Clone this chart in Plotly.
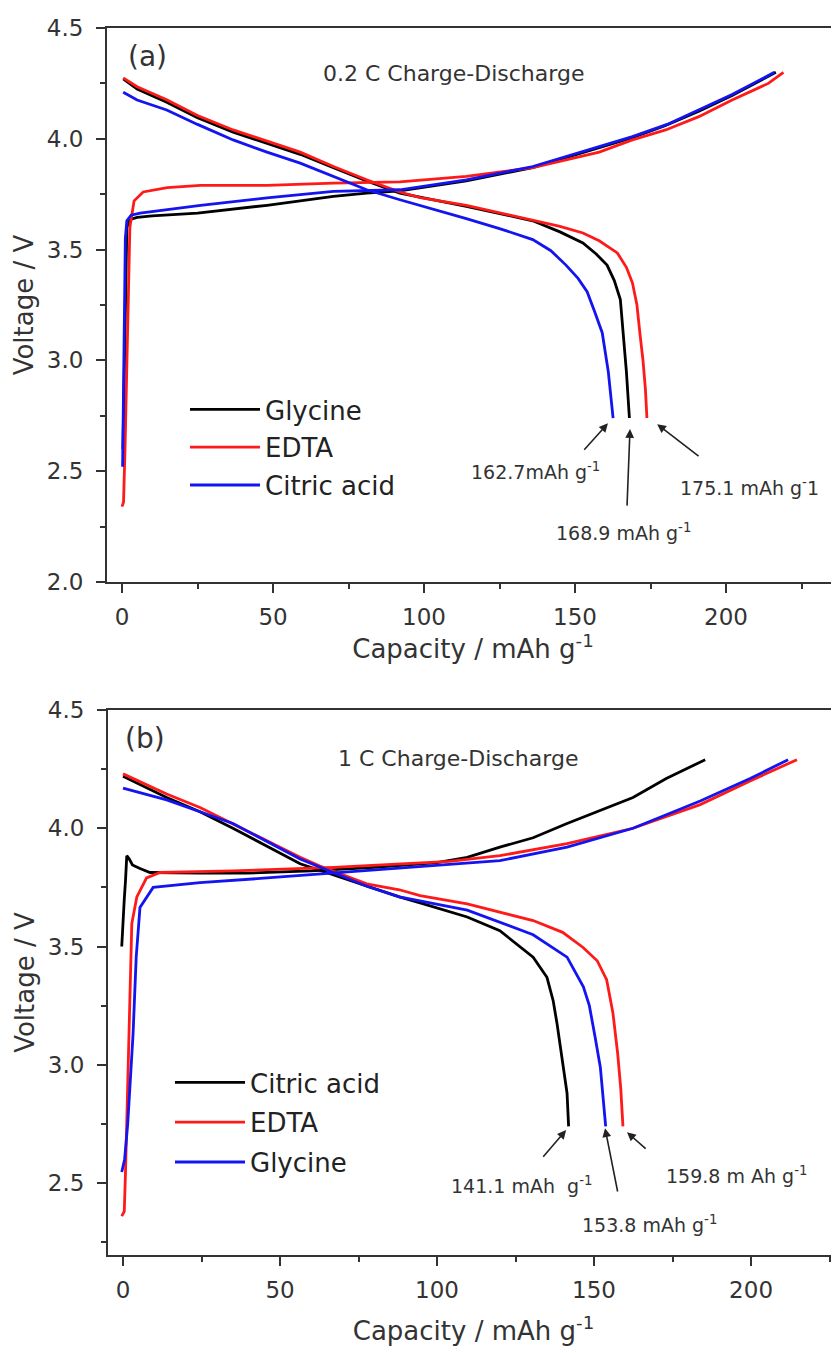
import plotly.graph_objects as go

# ---------------- Panel (a): 0.2 C ----------------
a_gly_chg_cap = [0.3, 0.8, 1.2, 1.6, 2.5, 5, 10, 25, 48, 70, 81, 92, 114, 136, 158, 169, 180, 191, 202, 216.5]
a_gly_chg_v = [2.60, 3.00, 3.40, 3.60, 3.635, 3.645, 3.652, 3.665, 3.70, 3.74, 3.755, 3.765, 3.81, 3.87, 3.96, 4.005, 4.06, 4.125, 4.195, 4.30]
a_edta_chg_cap = [0.0, 0.5, 1.0, 1.5, 2.0, 2.6, 4, 7, 15, 26, 48, 70, 92, 114, 136, 147, 158, 169, 180, 191, 202, 214, 219]
a_edta_chg_v = [2.34, 2.36, 2.6, 2.9, 3.2, 3.6, 3.72, 3.76, 3.78, 3.79, 3.79, 3.80, 3.806, 3.83, 3.87, 3.905, 3.94, 3.995, 4.04, 4.10, 4.175, 4.25, 4.30]
a_cit_chg_cap = [0.2, 0.5, 0.8, 1.1, 1.6, 3, 6, 26, 48, 70, 92, 114, 136, 158, 169, 180.5, 191, 202, 216]
a_cit_chg_v = [2.52, 2.85, 3.20, 3.55, 3.63, 3.655, 3.665, 3.70, 3.733, 3.763, 3.77, 3.815, 3.875, 3.965, 4.01, 4.065, 4.13, 4.20, 4.30]

a_gly_dis_cap = [0.4, 5, 14.8, 25, 36.8, 48, 59, 70, 81, 92, 114, 136, 145, 152.6, 157, 160.6, 163, 165, 166, 167, 168]
a_gly_dis_v = [4.27, 4.225, 4.165, 4.095, 4.03, 3.98, 3.93, 3.87, 3.81, 3.755, 3.695, 3.63, 3.58, 3.53, 3.48, 3.43, 3.36, 3.275, 3.13, 2.95, 2.74]
a_edta_dis_cap = [0.4, 5, 14.8, 25, 36.8, 48, 59, 70, 81, 92, 98.7, 114, 136, 145, 152.6, 158, 164, 167, 169, 170.5, 171.5, 172.5, 173.3, 173.8]
a_edta_dis_v = [4.275, 4.235, 4.176, 4.105, 4.04, 3.99, 3.94, 3.875, 3.815, 3.76, 3.735, 3.70, 3.635, 3.605, 3.575, 3.54, 3.485, 3.42, 3.35, 3.25, 3.12, 3.0, 2.87, 2.74]
a_cit_dis_cap = [0.4, 5, 14.8, 25, 36.8, 48, 59, 70, 81, 92, 98.7, 114, 125, 136, 142, 147, 151, 154, 156.5, 159, 161, 162.6]
a_cit_dis_v = [4.21, 4.175, 4.13, 4.065, 3.995, 3.94, 3.89, 3.83, 3.77, 3.725, 3.70, 3.64, 3.595, 3.545, 3.495, 3.43, 3.37, 3.31, 3.22, 3.125, 2.95, 2.74]

# ---------------- Panel (b): 1 C ----------------
b_cit_chg_cap = [-0.4, 0.0, 0.4, 0.8, 1.2, 2.0, 3.0, 5.4, 8.6, 24.5, 39.4, 60, 80, 100, 109.6, 120, 130.6, 141.4, 152, 162.4, 173, 185.4]
b_cit_chg_v = [3.50, 3.62, 3.70, 3.78, 3.884, 3.87, 3.845, 3.83, 3.813, 3.81, 3.81, 3.82, 3.835, 3.855, 3.877, 3.92, 3.96, 4.02, 4.074, 4.13, 4.21, 4.29]
b_edta_chg_cap = [-0.4, 0.4, 0.8, 1.2, 1.6, 2.2, 2.8, 4.4, 7.5, 11.8, 35, 67, 88, 104, 120, 141.4, 162.4, 183.8, 199.7, 214.6]
b_edta_chg_v = [2.36, 2.38, 2.55, 2.78, 2.99, 3.30, 3.597, 3.71, 3.79, 3.813, 3.82, 3.835, 3.85, 3.86, 3.884, 3.935, 4.00, 4.10, 4.20, 4.29]
b_gly_chg_cap = [-0.4, 0.5, 1.5, 2.5, 3.2, 4.2, 5.4, 9.6, 24.5, 45.9, 67, 88, 120, 141.4, 162.4, 183.8, 199.7, 211.8]
b_gly_chg_v = [2.547, 2.60, 2.75, 2.95, 3.13, 3.455, 3.665, 3.75, 3.77, 3.79, 3.81, 3.83, 3.863, 3.92, 4.00, 4.115, 4.21, 4.29]

b_cit_dis_cap = [0, 13.9, 24.5, 35, 56.4, 77.6, 88, 94.6, 109.6, 120, 130.6, 135, 137, 138.2, 139.5, 141.4, 141.9]
b_cit_dis_v = [4.22, 4.13, 4.07, 4.00, 3.85, 3.755, 3.71, 3.685, 3.625, 3.567, 3.455, 3.37, 3.27, 3.175, 3.05, 2.88, 2.74]
b_edta_dis_cap = [0, 13.9, 24.5, 35, 45.8, 56.4, 62.7, 77.6, 88, 94.6, 109.6, 130.6, 140, 146.5, 151, 154, 156, 157.5, 158.5, 159.2]
b_edta_dis_v = [4.23, 4.145, 4.088, 4.018, 3.947, 3.877, 3.84, 3.765, 3.74, 3.715, 3.68, 3.61, 3.56, 3.496, 3.44, 3.36, 3.22, 3.05, 2.90, 2.74]
b_gly_dis_cap = [0, 13.9, 24.5, 35, 56.4, 77.6, 88, 109.6, 130.6, 141.4, 146.6, 148.5, 150.3, 152, 153.7]
b_gly_dis_v = [4.17, 4.12, 4.07, 4.02, 3.87, 3.755, 3.71, 3.654, 3.55, 3.455, 3.33, 3.25, 3.12, 2.99, 2.74]

# annotation labels
a_labels = ["162.7mAh g<sup>-1</sup>", "168.9 mAh g<sup>-1</sup>", "175.1 mAh g<sup>-</sup>1"]
a_label_pos = [(136.8, 2.50), (165.9, 2.225), (207.6, 2.43)]
a_arrow_head = [(160.9, 2.716), (168.2, 2.69), (177.2, 2.712)]
a_arrow_tail = [(152.6, 2.59), (167.2, 2.338), (191.4, 2.563)]

b_labels = ["141.1 mAh  g<sup>-1</sup>", "153.8 mAh g<sup>-1</sup>", "159.8 m Ah g<sup>-1</sup>"]
b_label_pos = [(126.8, 2.49), (167.5, 2.325), (195.2, 2.535)]
b_arrow_head = [(141.1, 2.724), (153.5, 2.732), (160.5, 2.715)]
b_arrow_tail = [(133.4, 2.605), (157.6, 2.458), (166.9, 2.64)]

BLACK = "#000000"
RED = "#ff1a1a"
BLUE = "#1414f0"
FONT = "DejaVu Sans"
TXT = "#333333"
LW = 2.8

# page body has an 8 px margin: figure coordinates = page coordinates - 8
OFF = 8
W, H = 839 - OFF, 1353 - OFF

def px(xp):
    return (xp - OFF) / W

def py(yp):
    return 1 - (yp - OFF) / H

fig = go.Figure()

def add_pair(cap_c, v_c, cap_d, v_d, name, color, xa, ya, legend, grp):
    fig.add_trace(go.Scatter(x=cap_c, y=v_c, mode="lines", name=name,
                             line=dict(color=color, width=LW), xaxis=xa, yaxis=ya,
                             legend=legend, legendgroup=grp, showlegend=True))
    fig.add_trace(go.Scatter(x=cap_d, y=v_d, mode="lines", name=name,
                             line=dict(color=color, width=LW), xaxis=xa, yaxis=ya,
                             legend=legend, legendgroup=grp, showlegend=False))

add_pair(a_gly_chg_cap, a_gly_chg_v, a_gly_dis_cap, a_gly_dis_v, "Glycine", BLACK, "x", "y", "legend", "a1")
add_pair(a_edta_chg_cap, a_edta_chg_v, a_edta_dis_cap, a_edta_dis_v, "EDTA", RED, "x", "y", "legend", "a2")
add_pair(a_cit_chg_cap, a_cit_chg_v, a_cit_dis_cap, a_cit_dis_v, "Citric acid", BLUE, "x", "y", "legend", "a3")

add_pair(b_cit_chg_cap, b_cit_chg_v, b_cit_dis_cap, b_cit_dis_v, "Citric acid", BLACK, "x2", "y2", "legend2", "b1")
add_pair(b_edta_chg_cap, b_edta_chg_v, b_edta_dis_cap, b_edta_dis_v, "EDTA", RED, "x2", "y2", "legend2", "b2")
add_pair(b_gly_chg_cap, b_gly_chg_v, b_gly_dis_cap, b_gly_dis_v, "Glycine", BLUE, "x2", "y2", "legend2", "b3")

def xax(domain_left, rng, anchor, standoff):
    return dict(domain=[domain_left, 1.0], range=rng, anchor=anchor,
                tick0=0, dtick=50, ticks="outside", ticklen=9, tickwidth=2, tickcolor="#333",
                minor=dict(dtick=25, ticks="outside", ticklen=5, tickwidth=2, tickcolor="#333"),
                showline=True, linecolor="#333", linewidth=2, mirror=True,
                showgrid=False, zeroline=False, automargin=False,
                tickfont=dict(family=FONT, size=23, color=TXT), ticklabelstandoff=4,
                title=dict(text="Capacity / mAh g<sup>-1</sup>", font=dict(family=FONT, size=26, color=TXT),
                           standoff=standoff))

def yax(dom, rng, anchor):
    return dict(domain=dom, range=rng, anchor=anchor,
                tick0=0, dtick=0.5, tickformat=".1f", ticks="outside", ticklen=9, tickwidth=2, tickcolor="#333",
                minor=dict(dtick=0.25, ticks="outside", ticklen=5, tickwidth=2, tickcolor="#333"),
                showline=True, linecolor="#333", linewidth=2, mirror=False,
                showgrid=False, zeroline=False, automargin=False,
                tickfont=dict(family=FONT, size=23, color=TXT), ticklabelstandoff=8,
                title=dict(text="Voltage / V", font=dict(family=FONT, size=26, color=TXT), standoff=6))

fig.update_layout(
    width=W, height=H,
    margin=dict(l=0, r=0, t=0, b=0),
    paper_bgcolor="white", plot_bgcolor="white",
    xaxis=xax(px(107), [-4.97, 237.4], "y", 8),
    yaxis=yax([py(582), py(28)], [2.0, 4.5], "x"),
    xaxis2=xax(px(108), [-4.78, 228.0], "y2", 20),
    yaxis2=yax([py(1255), py(710)], [2.196, 4.5], "x2"),
    legend=dict(x=px(185), y=py(386), xanchor="left", yanchor="top",
                bgcolor="rgba(0,0,0,0)", font=dict(family=FONT, size=26, color="#222"),
                tracegroupgap=1, itemwidth=70),
    legend2=dict(x=px(170), y=py(1059), xanchor="left", yanchor="top",
                 bgcolor="rgba(0,0,0,0)", font=dict(family=FONT, size=26, color="#222"),
                 tracegroupgap=3, itemwidth=70),
    showlegend=True,
)

# panel labels and titles
def paper_text(xp, yp, text, size):
    fig.add_annotation(x=px(xp), y=py(yp), xref="paper", yref="paper", text=text,
                       xanchor="center", yanchor="middle", showarrow=False,
                       font=dict(family=FONT, size=size, color=TXT))

paper_text(147, 57, "(a)", 28)
paper_text(145, 738, "(b)", 28)
paper_text(453, 73, "0.2 C Charge-Discharge", 22)
paper_text(458, 758, "1 C Charge-Discharge", 22)

def add_callouts(labels, pos, heads, tails, xr, yr):
    for t, (lx, ly) in zip(labels, pos):
        fig.add_annotation(x=lx, y=ly, xref=xr, yref=yr, text=t, showarrow=False,
                           xanchor="center", yanchor="middle",
                           font=dict(family=FONT, size=19, color=TXT))
    for (hx, hy), (tx, ty) in zip(heads, tails):
        fig.add_annotation(x=hx, y=hy, ax=tx, ay=ty, xref=xr, yref=yr, axref=xr, ayref=yr,
                           text="", showarrow=True, arrowhead=2, arrowsize=1.1,
                           arrowwidth=1.6, arrowcolor="#222")

add_callouts(a_labels, a_label_pos, a_arrow_head, a_arrow_tail, "x", "y")
add_callouts(b_labels, b_label_pos, b_arrow_head, b_arrow_tail, "x2", "y2")

fig.write_html("out.html")
